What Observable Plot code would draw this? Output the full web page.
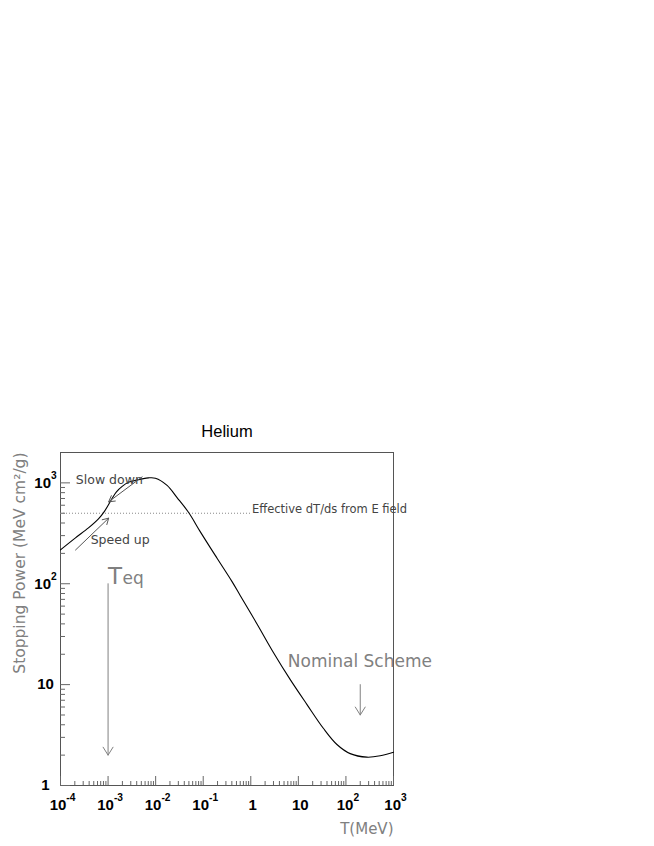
<!DOCTYPE html>
<html><head><meta charset="utf-8">
<script src="https://cdn.jsdelivr.net/npm/d3@7"></script>
<script src="https://cdn.jsdelivr.net/npm/@observablehq/plot@0.6"></script>
<style>body{margin:0;background:#fff}</style>
</head><body><div id="chart"></div>
<script>
// Stopping power curve
const energyMeV = [1e-4, 2.065e-4, 3.87e-4, 6.28e-4, 8.39e-4, 1.22e-3, 1.5e-3, 1.98e-3, 2.68e-3, 3.76e-3, 7.05e-3, 9.89e-3, 0.0174, 0.0282, 0.0494, 0.0871, 0.1955, 0.404, 0.603, 1.352, 3.01, 6.76, 15.2, 33.8, 64.7, 123, 276, 525, 1000];
const stoppingPower = [217, 285, 358, 440, 522, 703, 815, 923, 1012, 1059, 1121, 1113, 945, 715, 508, 327, 179, 105, 76.1, 39.9, 20.7, 11.2, 6.34, 3.67, 2.55, 2.07, 1.91, 1.97, 2.14];

const xTicks = [1e-4, 1e-3, 1e-2, 1e-1, 1, 10, 100, 1000];
const xTickLabels = ["10^-4", "10^-3", "10^-2", "10^-1", "1", "10", "10^2", "10^3"];
const yTicks = [1, 10, 100, 1000];
const yTickLabels = ["1", "10", "10^2", "10^3"];
const minorSteps = [2, 3, 4, 5, 6, 7, 8, 9];

const eFieldLevel = 500;
const eFieldFrom = 1e-4, eFieldTo = 1;

const noteText = ["Slow down", "Speed up", "Effective dT/ds from E field"];
const noteX = [2.1e-4, 4.3e-4, 1.06];
const noteY = [970, 247, 500];

const smallArrowX1 = [5.2e-3, 2.07e-4];
const smallArrowY1 = [1146, 216];
const smallArrowX2 = [1.03e-3, 1.03e-3];
const smallArrowY2 = [649, 447];

const bigArrowX = [1e-3, 200];
const bigArrowY1 = [100, 10];
const bigArrowY2 = [2, 5];

const schemeText = ["Nominal Scheme"];
const schemeX = [6];
const schemeY = [14.8];
const teqX = [1e-3];
const teqY = [100];

const curve = energyMeV.map((t, i) => ({t, sp: stoppingPower[i]}));
const xMinor = xTicks.slice(0, -1).flatMap(d => minorSteps.map(k => d * k));
const yMinor = yTicks.slice(0, -1).flatMap(d => minorSteps.map(k => d * k));
const idx = a => a.map((_, i) => i);

const fmt = (ticks, labels) => d => labels[ticks.findIndex(v => Math.abs(v - d) / v < 1e-6)] ?? "";

const gray = "#555";
const plot = Plot.plot({
  width: 654,
  height: 846,
  marginTop: 452,
  marginLeft: 60,
  marginRight: 261,
  marginBottom: 61,
  style: {fontFamily: "'Liberation Sans', Arial, sans-serif", background: "#fff"},
  x: {type: "log", domain: [1e-4, 1000], label: null},
  y: {type: "log", domain: [1, 2000], label: null},
  marks: [
    Plot.frame({stroke: gray}),
    // minor and major ticks (inward)
    Plot.axisX({anchor: "bottom", ticks: xMinor, tickSize: -4, tickFormat: () => "", stroke: "#666", label: null}),
    Plot.axisX({anchor: "bottom", ticks: xTicks, tickSize: -9, tickFormat: () => "", stroke: "#666", label: null}),
    Plot.axisY({anchor: "left", ticks: yMinor, tickSize: -5, tickFormat: () => "", stroke: "#666", label: null}),
    Plot.axisY({anchor: "left", ticks: yTicks, tickSize: -10, tickFormat: () => "", stroke: "#666", label: null}),
    // tick labels
    Plot.axisX({anchor: "bottom", ticks: xTicks, tickSize: 0, tickPadding: 14, tickFormat: fmt(xTicks, xTickLabels),
      fontSize: 15, fontWeight: "bold", fill: "#000", dx: 2, label: null}),
    Plot.axisY({anchor: "left", ticks: yTicks, tickSize: 0, tickPadding: 15, tickFormat: fmt(yTicks, yTickLabels),
      fontSize: 15, fontWeight: "bold", fill: "#000", textAnchor: "middle", label: null}),
    // axis titles and chart title
    Plot.text(["Helium"], {frameAnchor: "top", lineAnchor: "bottom", dy: -16, fontSize: 16.5, fill: "#000"}),
    Plot.text(["T(MeV)"], {frameAnchor: "bottom-right", textAnchor: "end", lineAnchor: "bottom", dy: 48, fontSize: 15, fill: "#808080", fontFamily: "DejaVu Sans"}),
    Plot.text(["Stopping Power (MeV cm\u00b2/g)"], {frameAnchor: "top-left", rotate: -90, textAnchor: "end", lineAnchor: "middle", dx: -40, dy: 0, fontSize: 15.5, fill: "#808080", fontFamily: "DejaVu Sans"}),
    // E field dotted line
    Plot.ruleY([eFieldLevel], {x1: eFieldFrom, x2: eFieldTo, stroke: "#888", strokeDasharray: "1,2"}),
    // curve
    Plot.line(curve, {x: "t", y: "sp", stroke: "#000", strokeWidth: 1.1, curve: "catmull-rom"}),
    // annotations
    Plot.text(idx(noteText), {x: i => noteX[i], y: i => noteY[i], text: i => noteText[i], textAnchor: "start", lineAnchor: "bottom",
      fontSize: i => i === 2 ? 11.5 : 12.5, fill: "#444", fontFamily: "DejaVu Sans"}),
    Plot.arrow(idx(smallArrowX1), {x1: i => smallArrowX1[i], y1: i => smallArrowY1[i], x2: i => smallArrowX2[i], y2: i => smallArrowY2[i],
      stroke: "#555", strokeWidth: 1, headLength: 10, headAngle: 60}),
    Plot.arrow(idx(bigArrowX), {x1: i => bigArrowX[i], y1: i => bigArrowY1[i], x2: i => bigArrowX[i], y2: i => bigArrowY2[i],
      stroke: "#808080", strokeWidth: 1, headLength: 14, headAngle: 64}),
    Plot.text(schemeText, {x: schemeX, y: schemeY, textAnchor: "start", lineAnchor: "bottom", fontSize: 17, fill: "#808080", fontFamily: "DejaVu Sans"}),
    Plot.text(["T"], {x: teqX, y: teqY, textAnchor: "start", lineAnchor: "bottom", fontSize: 23, fill: "#808080", fontFamily: "DejaVu Sans"}),
    Plot.text(["eq"], {x: teqX, y: teqY, textAnchor: "start", lineAnchor: "bottom", dx: 14.5, fontSize: 17, fill: "#808080", fontFamily: "DejaVu Sans"})
  ]
});

// turn "10^n" tick labels into superscripts
d3.select(plot).selectAll('g[aria-label$="tick label"] text').each(function () {
  const m = this.textContent.match(/^(\d+)\^(.+)$/);
  if (m) {
    const s = d3.select(this);
    s.text(m[1]);
    s.append("tspan").attr("dy", "-0.85em").attr("font-size", "0.68em").text(m[2]);
  }
});
document.getElementById("chart").append(plot);
</script>
</body></html>
